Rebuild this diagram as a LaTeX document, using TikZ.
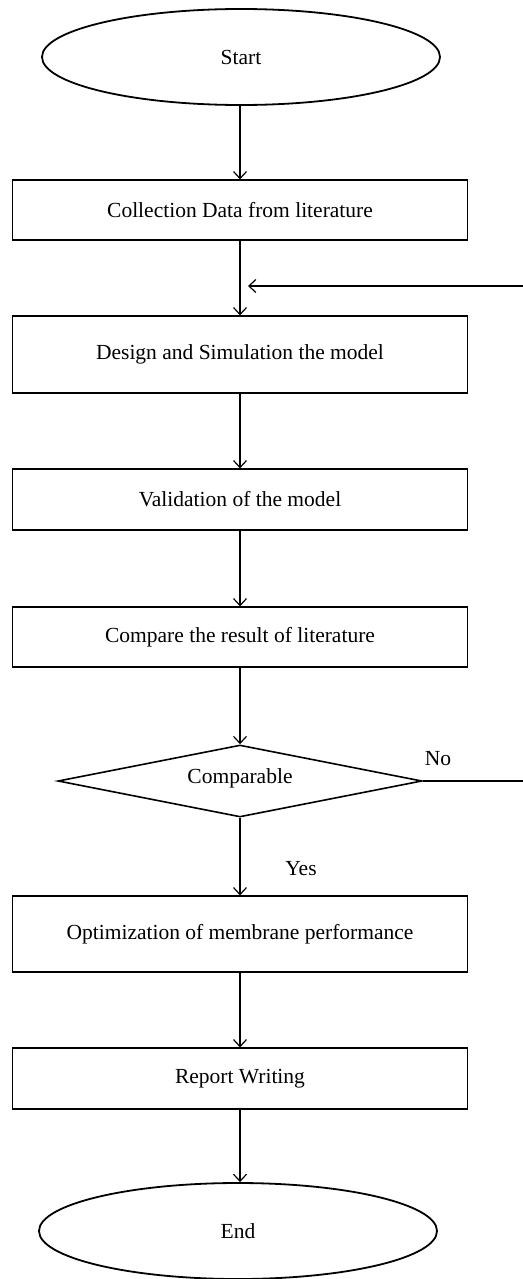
\documentclass[tikz,border=0pt]{standalone}
\usepackage{fontspec}
\setmainfont{Liberation Serif}
\usetikzlibrary{shapes.geometric}
\usetikzlibrary{arrows, arrows.meta}

\tikzset{
  stepbox/.style={draw, line width=0.6pt, minimum width=227.5pt, inner sep=0pt, font=\fontsize{10.75}{12}\selectfont},
  terminal/.style={draw, ellipse, line width=0.9pt, minimum width=199pt, minimum height=48pt, inner sep=0pt, font=\fontsize{10.75}{12}\selectfont},
  decision/.style={draw, diamond, aspect=5, line width=0.8pt, minimum width=182pt, minimum height=36pt, inner sep=0pt, font=\fontsize{10.75}{12}\selectfont},
  branch/.style={font=\fontsize{10.75}{12}\selectfont}
}

\begin{document}
\begin{tikzpicture}[x=0.5pt,y=-0.5pt]
\useasboundingbox (0,0) rectangle (523,1279);
\begin{scope}[>={Straight Barb[length=3.5pt,width=6.5pt]}, line width=0.6pt]

\node[terminal] (start) at (241,57) {Start};
\node[stepbox, minimum height=30pt] (collect) at (240,210) {Collection Data from literature};
\node[stepbox, minimum height=38.5pt] (design) at (240,354.5) {Design and Simulation the model};
\node[stepbox, minimum height=30.5pt] (valid) at (240,499.5) {Validation of the model};
\node[stepbox, minimum height=30pt] (compare) at (240,637) {Compare the result of literature};
\node[decision] (comparable) at (240,781) {};
\node[font=\fontsize{10.75}{12}\selectfont] (comparabletxt) at (240,778) {Comparable};
\node[stepbox, minimum height=38pt] (optim) at (240,934) {Optimization of membrane performance};
\node[stepbox, minimum height=30.5pt] (report) at (240,1078.5) {Report Writing};
\node[terminal] (end) at (238,1231) {End};

\node[branch] (no) at (438,759) {No};
\node[branch] (yes) at (301,869) {Yes};

\coordinate (noR) at (523,781);
\coordinate (backR) at (523,286);
\coordinate (backL) at (248,286);

\draw[->] (collect |- start.south) -- (collect);
\draw[->] (collect) -- (design);
\draw[->] (design) -- (valid);
\draw[->] (valid) -- (compare);
\draw[->] (compare) -- (comparable);
\draw[->] (comparable) -- (optim);
\draw[->] (optim) -- (report);
\draw[->] (report) -- (report |- end.north);

\draw (comparable.east) -- (noR);
\draw[->] (backR) -- (backL);

\end{scope}
\end{tikzpicture}
\end{document}
